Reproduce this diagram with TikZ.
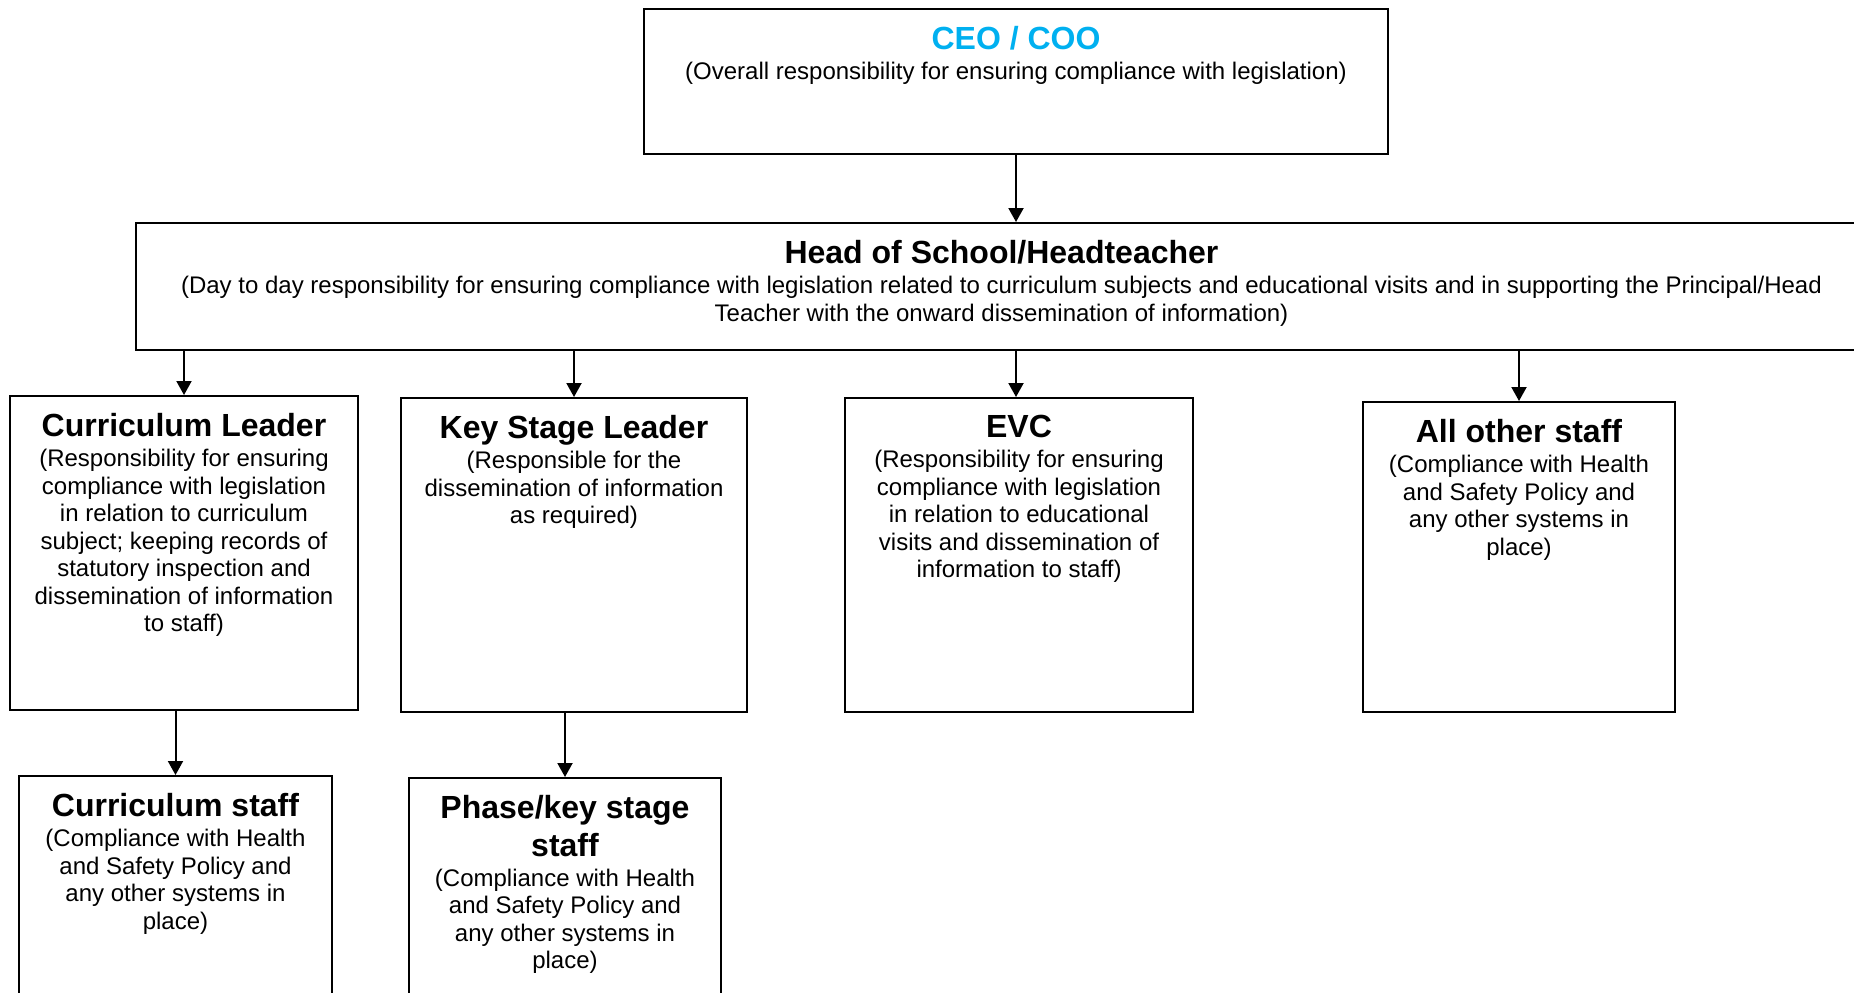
\documentclass[tikz,border=0pt]{standalone}
\usepackage{fontspec}
\setmainfont{Liberation Sans}
\usepackage{xcolor}
\usepackage{tikz}
\usetikzlibrary{arrows.meta,positioning}
\definecolor{ceoblue}{RGB}{0,176,240}
\newcommand{\rolebody}{\fontsize{12pt}{13.75pt}\selectfont}
\newcommand{\roletitle}{\fontsize{16pt}{18.3pt}\selectfont\bfseries}

\begin{document}
\begin{tikzpicture}[x=0.5pt,y=-0.5pt,
  orgbox/.style={draw, line width=1pt, rectangle, anchor=north west, inner sep=0pt},
  boxtext/.style={align=center, inner sep=0pt, font=\rolebody},
  arrowline/.style={line width=1pt, -{Triangle[length=7pt,width=7.5pt]}}]
\useasboundingbox (0,0) rectangle (1854,992);
\clip (0,0) rectangle (1854,992);
% CEO / COO
\node[orgbox, minimum width=372pt, minimum height=72.5pt] (ceo) at (643,8) {};
\node[boxtext, below=9pt of ceo.north] (ceo-t) {{\roletitle\color{ceoblue}CEO / COO}\\[1.3pt]
  (Overall responsibility for ensuring compliance with legislation)};
% Head of School
\node[orgbox, minimum width=865.5pt, minimum height=63.5pt] (head) at (135,222) {};
\node[boxtext, below=9pt of head.north] (head-t) {{\roletitle Head of School/Headteacher}\\[1.3pt]
  (Day to day responsibility for ensuring compliance with legislation related to curriculum subjects and educational visits and in supporting the Principal/Head\\
  Teacher with the onward dissemination of information)};
% Second row
\node[orgbox, minimum width=174pt, minimum height=157pt] (cl) at (9,395) {};
\node[boxtext, below=9pt of cl.north] (cl-t) {{\roletitle Curriculum Leader}\\[1.3pt]
  (Responsibility for ensuring\\ compliance with legislation\\ in relation to curriculum\\
  subject; keeping records of\\ statutory inspection and\\ dissemination of information\\ to staff)};
\node[orgbox, minimum width=173pt, minimum height=157pt] (ksl) at (400,397) {};
\node[boxtext, below=9pt of ksl.north] (ksl-t) {{\roletitle Key Stage Leader}\\[1.3pt]
  (Responsible for the\\ dissemination of information\\ as required)};
\node[orgbox, minimum width=174pt, minimum height=157pt] (evc) at (844,397) {};
\node[boxtext, below=9pt of evc.north] (evc-t) {{\roletitle EVC}\\[1.3pt]
  (Responsibility for ensuring\\ compliance with legislation\\ in relation to educational\\
  visits and dissemination of\\ information to staff)};
\node[orgbox, minimum width=156pt, minimum height=155pt] (aos) at (1362,401) {};
\node[boxtext, below=9pt of aos.north] (aos-t) {{\roletitle All other staff}\\[1.3pt]
  (Compliance with Health\\ and Safety Policy and\\ any other systems in\\ place)};
% Third row
\node[orgbox, minimum width=156.5pt, minimum height=112.5pt] (cs) at (18,775) {};
\node[boxtext, below=9pt of cs.north] (cs-t) {{\roletitle Curriculum staff}\\[1.3pt]
  (Compliance with Health\\ and Safety Policy and\\ any other systems in\\ place)};
\node[orgbox, minimum width=156pt, minimum height=111.5pt] (pks) at (408,777) {};
\node[boxtext, below=9pt of pks.north] (pks-t) {{\roletitle Phase/key stage}\\[2.8pt]
  {\roletitle staff}\\[1.3pt]
  (Compliance with Health\\ and Safety Policy and\\ any other systems in\\ place)};
% Arrows
\draw[arrowline] (ceo.south) -- (ceo.south |- head.north);
\foreach \n in {cl,ksl,aos}{
  \draw[arrowline] (head.south -| \n.north) -- (\n.north);
}
\draw[arrowline] (ceo.south |- head.south) -- (ceo.south |- evc.north);
\draw[arrowline] (cs.north |- cl.south) -- (cs.north);
\draw[arrowline] (pks.north |- ksl.south) -- (pks.north);
\end{tikzpicture}
\end{document}
